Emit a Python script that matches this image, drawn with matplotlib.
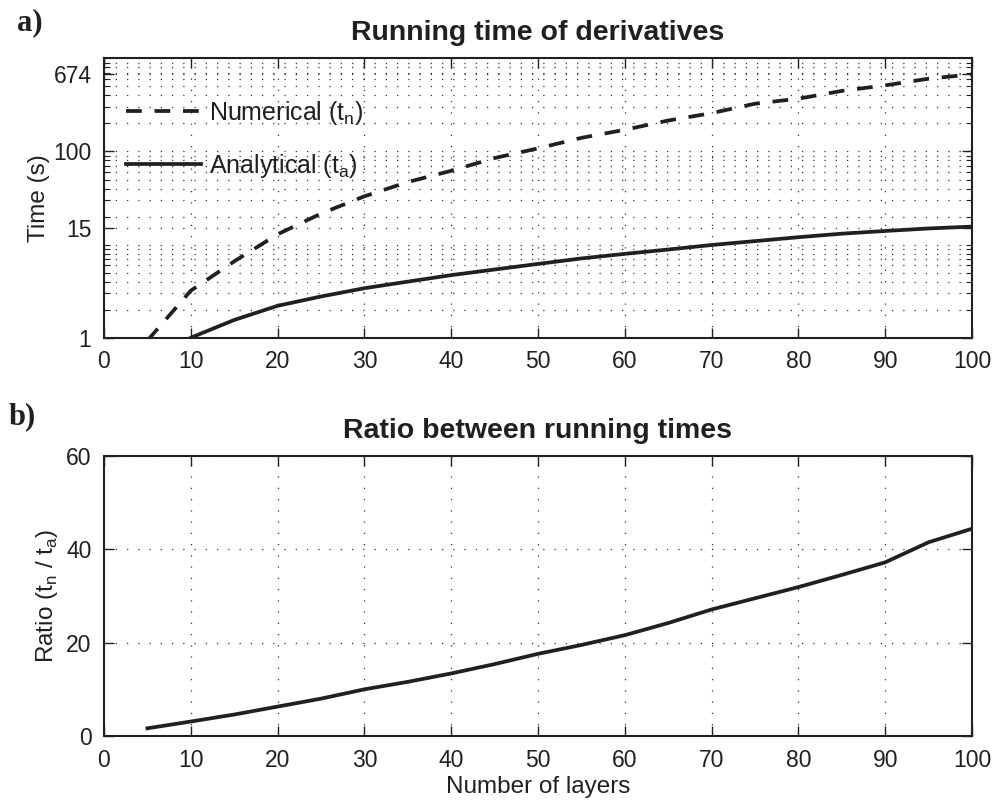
import numpy as np
import matplotlib
matplotlib.use("Agg")
from matplotlib import pyplot as plt
from matplotlib.ticker import LogLocator, NullFormatter, FixedLocator

# data
layers = [5, 10, 15, 20, 25, 30, 35, 40, 45, 50, 55, 60, 65, 70, 75, 80, 85, 90, 95, 100]
t_num = [0.93, 3.2, 6.6, 12.9, 21.5, 33, 47, 62, 85, 108, 140, 171, 215, 258, 326, 369, 447, 513, 605, 674]
t_ana = [0.56, 1.0, 1.55, 2.2, 2.77, 3.4, 4.0, 4.7, 5.4, 6.2, 7.1, 7.95, 8.85, 9.9, 10.9, 12.0, 13.1, 14.0, 14.9, 15.6]
ratio = [1.65, 3.1, 4.6, 6.3, 8.0, 10.0, 11.6, 13.4, 15.4, 17.6, 19.5, 21.6, 24.2, 27.1, 29.5, 31.9, 34.5, 37.2, 41.5, 44.4]
x_ticks = [0, 10, 20, 30, 40, 50, 60, 70, 80, 90, 100]
time_ticks = [1, 15, 100, 674]
ratio_ticks = [0, 20, 40, 60]

plt.rcParams['font.family'] = ['Liberation Sans', 'DejaVu Sans']
plt.rcParams['mathtext.fontset'] = 'custom'
plt.rcParams['mathtext.rm'] = 'Liberation Sans'
ink = '#231f20'
grid_kw = dict(color='0.2', linestyle=(0, (1, 8)), linewidth=0.9)

fig = plt.figure(figsize=(9.95, 8.05), dpi=100)
ax1 = fig.add_axes([0.1045, 0.5805, 0.8724, 0.347])
ax2 = fig.add_axes([0.1045, 0.0857, 0.8724, 0.348])

# a) running times, log scale
ax1.plot(layers, t_num, color=ink, lw=2.7, dashes=(4.2, 3.4), label='Numerical (t$_\\mathregular{n}$)')
ax1.plot(layers, t_ana, color=ink, lw=2.7, label='Analytical (t$_\\mathregular{a}$)')
ax1.set_yscale('log')
ax1.set_ylim(1, 1000)
ax1.yaxis.set_major_locator(FixedLocator(time_ticks))
ax1.set_yticklabels([str(v) for v in time_ticks])
ax1.yaxis.set_minor_locator(LogLocator(base=10, subs=np.arange(1, 10), numticks=20))
ax1.yaxis.set_minor_formatter(NullFormatter())
ax1.grid(True, which='major', **grid_kw)
ax1.grid(True, which='minor', axis='y', **grid_kw)
ax1.set_ylabel('Time (s)', fontsize=17.5, color=ink, labelpad=2)
ax1.set_title('Running time of derivatives', fontsize=20.5, fontweight='bold', color=ink, pad=13)
leg = ax1.legend(loc='upper left', frameon=False, fontsize=18, handlelength=3.0,
                 handletextpad=0.3, labelspacing=1.0, borderaxespad=0.5,
                 bbox_to_anchor=(0.0, 0.935))
for t in leg.get_texts():
    t.set_color(ink)

# b) ratio
ax2.plot(layers, ratio, color=ink, lw=2.7)
ax2.set_ylim(0, 60)
ax2.set_yticks(ratio_ticks)
ax2.grid(True, which='major', **grid_kw)
ax2.set_ylabel('Ratio (t$_\\mathregular{n}$ / t$_\\mathregular{a}$)', fontsize=17.5, color=ink, labelpad=4)
ax2.set_xlabel('Number of layers', fontsize=17.5, color=ink, labelpad=3)
ax2.set_title('Ratio between running times', fontsize=20.5, fontweight='bold', color=ink, pad=13)

for ax in (ax1, ax2):
    ax.set_xlim(0, 100)
    ax.set_xticks(x_ticks)
    ax.tick_params(which='major', direction='in', length=7, width=1.0, top=True, right=True,
                   labelsize=16.5, colors=ink, pad=9)
    ax.tick_params(which='minor', direction='in', length=4, width=0.8, top=True, right=True, colors=ink)
    for s in ax.spines.values():
        s.set_linewidth(1.5)
        s.set_color(ink)

# panel letters
fig.text(0.017, 0.962, 'a)', fontsize=22, fontweight='bold', family='Liberation Serif', color=ink)
fig.text(0.009, 0.473, 'b)', fontsize=22, fontweight='bold', family='Liberation Serif', color=ink)

fig.savefig('out.png', dpi=100)
